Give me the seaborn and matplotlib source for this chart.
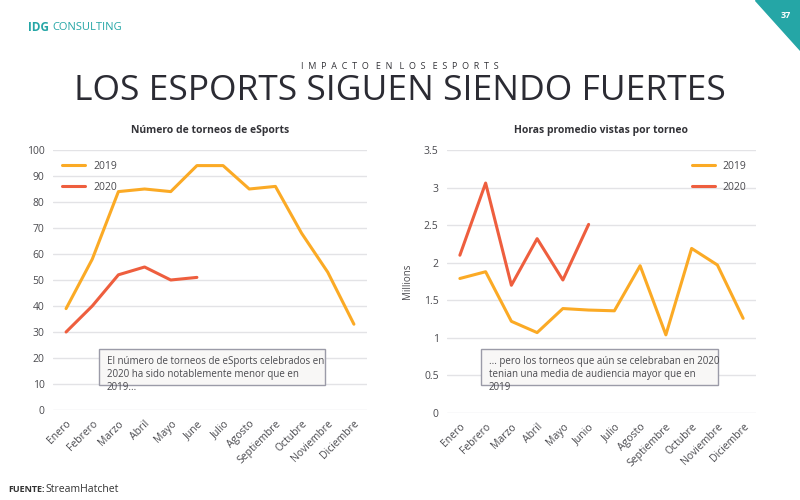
import numpy as np
import pandas as pd
import seaborn as sns
import matplotlib.pyplot as plt
from matplotlib.patches import Polygon, Rectangle

# %% data
meses_1 = ['Enero', 'Febrero', 'Marzo', 'Abril', 'Mayo', 'June', 'Julio',
           'Agosto', 'Septiembre', 'Octubre', 'Noviembre', 'Diciembre']
meses_2 = ['Enero', 'Febrero', 'Marzo', 'Abril', 'Mayo', 'Junio', 'Julio',
           'Agosto', 'Septiembre', 'Octubre', 'Noviembre', 'Diciembre']

torneos_2019 = [39, 58, 84, 85, 84, 94, 94, 85, 86, 68, 53, 33]
torneos_2020 = [30, 40, 52, 55, 50, 51]

horas_2019 = [1.79, 1.88, 1.22, 1.07, 1.39, 1.37, 1.36, 1.96, 1.04, 2.19, 1.97, 1.26]
horas_2020 = [2.10, 3.06, 1.70, 2.32, 1.77, 2.51]

c2019 = '#FBAA25'
c2020 = '#EE5E3E'
teal = '#25A6A6'
grey_txt = '#4a4a4f'


def long_df(v19, v20):
    rows = []
    for i, v in enumerate(v19):
        rows.append({'mes': i, 'valor': v, 'anio': '2019'})
    for i, v in enumerate(v20):
        rows.append({'mes': i, 'valor': v, 'anio': '2020'})
    return pd.DataFrame(rows)


df1 = long_df(torneos_2019, torneos_2020)
df2 = long_df(horas_2019, horas_2020)

# %% figure
sns.set_theme(style='white')
plt.rcParams['font.family'] = ['Open Sans', 'DejaVu Sans']

fig = plt.figure(figsize=(8, 5), dpi=100)
fig.patch.set_facecolor('white')

# header
fig.text(0.035, 0.945, 'IDG', color=teal, fontsize=8.5, fontweight='bold', va='center')
fig.text(0.065, 0.945, 'CONSULTING', color=teal, fontsize=8, va='center')
fig.patches.append(Polygon([[755 / 800, 1], [1, 1], [1, 1 - 50 / 500]], closed=True,
                           transform=fig.transFigure, color=teal, zorder=0))
fig.text(0.982, 0.97, '37', color='white', fontsize=6.5, fontweight='bold',
         ha='center', va='center')
fig.text(0.5, 0.867, '   '.join('  '.join(w) for w in 'IMPACTO EN LOS ESPORTS'.split()),
         ha='center', va='center', fontsize=6.5, color='#333338')
fig.text(0.5, 0.818, 'LOS ESPORTS SIGUEN SIENDO FUERTES', ha='center', va='center',
         fontsize=25.5, color='#2b2b33')
fig.text(0.01, 0.02, 'FUENTE:', fontsize=6.5, fontweight='bold', color='#333', va='center')
fig.text(0.057, 0.02, 'StreamHatchet', fontsize=7.5, color='#333', va='center')

palette = {'2019': c2019, '2020': c2020}


def style_axes(ax, meses, ylim, yticks, ylabels):
    ax.set_xlim(-0.5, 11.5)
    ax.set_ylim(*ylim)
    ax.set_yticks(yticks)
    ax.set_yticklabels(ylabels, fontsize=7.5, color=grey_txt)
    ax.set_xticks(range(12))
    ax.set_xticklabels(meses, rotation=45, ha='right', rotation_mode='anchor',
                       fontsize=7.5, color=grey_txt)
    ax.tick_params(axis='both', length=0, pad=6)
    ax.grid(axis='y', color='#e3e3e6', linewidth=1)
    for s in ax.spines.values():
        s.set_visible(False)
    ax.set_xlabel('')
    ax.set_ylabel('')


# left chart
ax1 = fig.add_axes([53 / 800, 1 - 410 / 500, 314 / 800, 260 / 500])
sns.lineplot(df1, x='mes', y='valor', hue='anio', palette=palette, ax=ax1,
             linewidth=2.2)
style_axes(ax1, meses_1, (0, 100), range(0, 101, 10), [str(v) for v in range(0, 101, 10)])
ax1.legend(frameon=False, loc='upper left', bbox_to_anchor=(0.0, 0.995),
           handlelength=2.2, labelspacing=0.95, fontsize=7.5, labelcolor=grey_txt)
ax1.set_title('Número de torneos de eSports', fontsize=7.5, fontweight='bold',
              color='#333338', pad=12)
ax1.add_patch(Rectangle((99 / 800, 1 - 385 / 500), 226 / 800, 36 / 500,
                        transform=fig.transFigure, facecolor='#f8f7f6',
                        edgecolor='#9b9ba8', linewidth=1, zorder=5, clip_on=False))
fig.text(107 / 800, 1 - 356 / 500,
         'El número de torneos de eSports celebrados en\n2020 ha sido notablemente menor que en\n2019...',
         fontsize=7, color=grey_txt, va='top', linespacing=1.25, zorder=6)

# right chart
ax2 = fig.add_axes([447 / 800, 1 - 413 / 500, 309 / 800, 263 / 500])
sns.lineplot(df2, x='mes', y='valor', hue='anio', palette=palette, ax=ax2,
             linewidth=2.2)
style_axes(ax2, meses_2, (0, 3.5), np.arange(0, 3.51, 0.5),
           ['0', '0.5', '1', '1.5', '2', '2.5', '3', '3.5'])
ax2.set_ylabel('Millions', fontsize=7, color=grey_txt, labelpad=8)
ax2.legend(frameon=False, loc='upper right', bbox_to_anchor=(1.0, 0.995),
           handlelength=2.2, labelspacing=0.95, fontsize=7.5, labelcolor=grey_txt)
ax2.set_title('Horas promedio vistas por torneo', fontsize=7.5, fontweight='bold',
              color='#333338', pad=12)
ax2.add_patch(Rectangle((481 / 800, 1 - 385 / 500), 237 / 800, 36 / 500,
                        transform=fig.transFigure, facecolor='#f8f7f6',
                        edgecolor='#9b9ba8', linewidth=1, zorder=5, clip_on=False))
fig.text(489 / 800, 1 - 356 / 500,
         '... pero los torneos que aún se celebraban en 2020\ntenian una media de audiencia mayor que en\n2019',
         fontsize=7, color=grey_txt, va='top', linespacing=1.25, zorder=6)

fig.savefig('out.png', dpi=100)
